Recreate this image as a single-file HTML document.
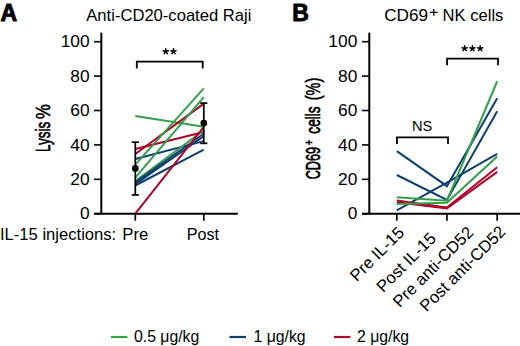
<!DOCTYPE html>
<html><head><meta charset="utf-8"><style>
html,body{margin:0;padding:0;background:#fff;width:520px;height:346px;overflow:hidden}
svg{display:block}
text{font-family:"Liberation Sans",sans-serif;fill:#000}
</style></head><body>
<svg width="520" height="346" viewBox="0 0 520 346">

<text x="0.6" y="20.6" font-size="23" font-weight="bold" stroke="#000" stroke-width="0.9" stroke-linejoin="round">A</text>
<text x="292.2" y="20.6" font-size="23" font-weight="bold" stroke="#000" stroke-width="0.9" stroke-linejoin="round">B</text>
<text x="86.3" y="21.3" font-size="16.6">Anti-CD20-coated Raji</text>
<text x="384.2" y="21.3" font-size="17.2">CD69</text>
<path d="M430 12.3H437.6M433.8 8.9V15.7" stroke="#000" stroke-width="1.3" fill="none"/>
<text x="503.4" y="21.3" font-size="16.6" text-anchor="end">NK cells</text>
<line x1="101.3" y1="32.6" x2="101.3" y2="213.7" stroke="#000" stroke-width="2"/>
<line x1="94.0" y1="213.7" x2="237.8" y2="213.7" stroke="#000" stroke-width="2"/>
<line x1="94.0" y1="213.70" x2="101.3" y2="213.70" stroke="#000" stroke-width="1.6"/>
<text transform="translate(89.6,219.30) scale(1.065,0.97)" font-size="16.3" text-anchor="end">0</text>
<line x1="94.0" y1="179.30" x2="101.3" y2="179.30" stroke="#000" stroke-width="1.6"/>
<text transform="translate(89.6,184.90) scale(1.065,0.97)" font-size="16.3" text-anchor="end">20</text>
<line x1="94.0" y1="144.90" x2="101.3" y2="144.90" stroke="#000" stroke-width="1.6"/>
<text transform="translate(89.6,150.50) scale(1.065,0.97)" font-size="16.3" text-anchor="end">40</text>
<line x1="94.0" y1="110.50" x2="101.3" y2="110.50" stroke="#000" stroke-width="1.6"/>
<text transform="translate(89.6,116.10) scale(1.065,0.97)" font-size="16.3" text-anchor="end">60</text>
<line x1="94.0" y1="76.10" x2="101.3" y2="76.10" stroke="#000" stroke-width="1.6"/>
<text transform="translate(89.6,81.70) scale(1.065,0.97)" font-size="16.3" text-anchor="end">80</text>
<line x1="94.0" y1="41.70" x2="101.3" y2="41.70" stroke="#000" stroke-width="1.6"/>
<text transform="translate(89.6,47.30) scale(1.065,0.97)" font-size="16.3" text-anchor="end">100</text>
<line x1="135.3" y1="213.7" x2="135.3" y2="220.7" stroke="#000" stroke-width="1.7"/>
<line x1="203.8" y1="213.7" x2="203.8" y2="220.7" stroke="#000" stroke-width="1.7"/>
<line x1="369.3" y1="32.6" x2="369.3" y2="213.7" stroke="#000" stroke-width="2"/>
<line x1="362.0" y1="213.7" x2="520" y2="213.7" stroke="#000" stroke-width="2"/>
<line x1="362.0" y1="213.70" x2="369.3" y2="213.70" stroke="#000" stroke-width="1.6"/>
<text transform="translate(357.3,219.30) scale(1.065,0.97)" font-size="16.3" text-anchor="end">0</text>
<line x1="362.0" y1="179.30" x2="369.3" y2="179.30" stroke="#000" stroke-width="1.6"/>
<text transform="translate(357.3,184.90) scale(1.065,0.97)" font-size="16.3" text-anchor="end">20</text>
<line x1="362.0" y1="144.90" x2="369.3" y2="144.90" stroke="#000" stroke-width="1.6"/>
<text transform="translate(357.3,150.50) scale(1.065,0.97)" font-size="16.3" text-anchor="end">40</text>
<line x1="362.0" y1="110.50" x2="369.3" y2="110.50" stroke="#000" stroke-width="1.6"/>
<text transform="translate(357.3,116.10) scale(1.065,0.97)" font-size="16.3" text-anchor="end">60</text>
<line x1="362.0" y1="76.10" x2="369.3" y2="76.10" stroke="#000" stroke-width="1.6"/>
<text transform="translate(357.3,81.70) scale(1.065,0.97)" font-size="16.3" text-anchor="end">80</text>
<line x1="362.0" y1="41.70" x2="369.3" y2="41.70" stroke="#000" stroke-width="1.6"/>
<text transform="translate(357.3,47.30) scale(1.065,0.97)" font-size="16.3" text-anchor="end">100</text>
<line x1="396.8" y1="213.7" x2="396.8" y2="220.7" stroke="#000" stroke-width="1.7"/>
<line x1="446.9" y1="213.7" x2="446.9" y2="220.7" stroke="#000" stroke-width="1.7"/>
<line x1="497.2" y1="213.7" x2="497.2" y2="220.7" stroke="#000" stroke-width="1.7"/>
<line x1="135.3" y1="116.00" x2="203.8" y2="126.67" stroke="#33a049" stroke-width="2"/>
<line x1="135.3" y1="149.03" x2="203.8" y2="132.00" stroke="#ad0529" stroke-width="2"/>
<line x1="135.3" y1="154.02" x2="203.8" y2="103.62" stroke="#ad0529" stroke-width="2"/>
<line x1="135.3" y1="159.00" x2="203.8" y2="141.12" stroke="#0e3f70" stroke-width="2"/>
<line x1="135.3" y1="164.68" x2="203.8" y2="88.31" stroke="#33a049" stroke-width="2"/>
<line x1="135.3" y1="177.58" x2="203.8" y2="97.08" stroke="#33a049" stroke-width="2"/>
<line x1="135.3" y1="181.02" x2="203.8" y2="130.28" stroke="#33a049" stroke-width="2"/>
<line x1="135.3" y1="182.40" x2="203.8" y2="133.72" stroke="#0e3f70" stroke-width="2"/>
<line x1="135.3" y1="184.12" x2="203.8" y2="136.30" stroke="#0e3f70" stroke-width="2"/>
<line x1="135.3" y1="185.49" x2="203.8" y2="149.54" stroke="#0e3f70" stroke-width="2"/>
<line x1="135.3" y1="213.70" x2="203.8" y2="126.84" stroke="#ad0529" stroke-width="2"/>
<line x1="135.3" y1="142.15" x2="135.3" y2="194.95" stroke="#000" stroke-width="1.7"/>
<line x1="131.70000000000002" y1="194.95" x2="138.9" y2="194.95" stroke="#000" stroke-width="1.7"/>
<line x1="131.70000000000002" y1="142.15" x2="138.9" y2="142.15" stroke="#000" stroke-width="1.7"/>
<circle cx="135.3" cy="168.46" r="3.4" fill="#000"/>
<line x1="203.8" y1="103.10" x2="203.8" y2="143.35" stroke="#000" stroke-width="1.7"/>
<line x1="200.20000000000002" y1="143.35" x2="207.4" y2="143.35" stroke="#000" stroke-width="1.7"/>
<line x1="200.20000000000002" y1="103.10" x2="207.4" y2="103.10" stroke="#000" stroke-width="1.7"/>
<circle cx="203.8" cy="123.06" r="3.4" fill="#000"/>
<polyline points="396.8,151.09 446.9,186.18 497.2,98.29" fill="none" stroke="#0e3f70" stroke-width="2" stroke-linejoin="miter"/>
<polyline points="396.8,175.00 446.9,199.94 497.2,111.19" fill="none" stroke="#0e3f70" stroke-width="2" stroke-linejoin="miter"/>
<polyline points="396.8,210.43 446.9,182.74 497.2,153.84" fill="none" stroke="#0e3f70" stroke-width="2" stroke-linejoin="miter"/>
<polyline points="396.8,200.46 446.9,207.51 497.2,167.26" fill="none" stroke="#ad0529" stroke-width="2" stroke-linejoin="miter"/>
<polyline points="396.8,202.35 446.9,208.54 497.2,171.90" fill="none" stroke="#ad0529" stroke-width="2" stroke-linejoin="miter"/>
<polyline points="396.8,197.36 446.9,200.63 497.2,81.26" fill="none" stroke="#33a049" stroke-width="2" stroke-linejoin="miter"/>
<polyline points="396.8,203.90 446.9,202.86 497.2,156.60" fill="none" stroke="#33a049" stroke-width="2" stroke-linejoin="miter"/>
<polyline points="136.8,68.4 136.8,61.6 202.7,61.6 202.7,68.4" fill="none" stroke="#000" stroke-width="1.8"/>
<polyline points="396.9,144 396.9,137.3 448,137.3 448,144" fill="none" stroke="#000" stroke-width="1.8"/>
<polyline points="447.1,65.3 447.1,58.7 498,58.7 498,65.3" fill="none" stroke="#000" stroke-width="1.8"/>
<path d="M165.75 51.50L165.75 48.80M165.75 51.50L168.32 50.67M165.75 51.50L167.34 53.68M165.75 51.50L164.16 53.68M165.75 51.50L163.18 50.67" stroke="#000" stroke-width="1.5" stroke-linecap="round" fill="none"/>
<path d="M173.50 51.50L173.50 48.80M173.50 51.50L176.07 50.67M173.50 51.50L175.09 53.68M173.50 51.50L171.91 53.68M173.50 51.50L170.93 50.67" stroke="#000" stroke-width="1.5" stroke-linecap="round" fill="none"/>
<path d="M464.65 48.50L464.65 45.80M464.65 48.50L467.22 47.67M464.65 48.50L466.24 50.68M464.65 48.50L463.06 50.68M464.65 48.50L462.08 47.67" stroke="#000" stroke-width="1.5" stroke-linecap="round" fill="none"/>
<path d="M472.40 48.50L472.40 45.80M472.40 48.50L474.97 47.67M472.40 48.50L473.99 50.68M472.40 48.50L470.81 50.68M472.40 48.50L469.83 47.67" stroke="#000" stroke-width="1.5" stroke-linecap="round" fill="none"/>
<path d="M480.15 48.50L480.15 45.80M480.15 48.50L482.72 47.67M480.15 48.50L481.74 50.68M480.15 48.50L478.56 50.68M480.15 48.50L477.58 47.67" stroke="#000" stroke-width="1.5" stroke-linecap="round" fill="none"/>
<text x="422.2" y="130.6" font-size="14.6" text-anchor="middle">NS</text>
<text transform="translate(49.7,151.9) rotate(-90) scale(0.643,1)" font-size="21" stroke="#000" stroke-width="0.7">Lysis</text>
<text transform="translate(49.7,119.1) rotate(-90) scale(0.794,1)" font-size="21" stroke="#000" stroke-width="0.6">%</text>
<text transform="translate(320.4,179.3) rotate(-90) scale(0.604,1)" font-size="21" stroke="#000" stroke-width="0.7">CD69</text>
<path d="M305.5 142.5H312.4M309 139.9V145.1" stroke="#000" stroke-width="1.3" fill="none"/>
<text transform="translate(320.4,133.65) rotate(-90) scale(0.65,1)" font-size="21" stroke="#000" stroke-width="0.7">cells</text>
<text transform="translate(320.4,100.3) rotate(-90) scale(0.69,1)" font-size="21" stroke="#000" stroke-width="0.6">(%)</text>
<text x="0" y="239.7" font-size="16.6">IL-15 injections:</text>
<text x="135.4" y="239.7" font-size="16.8" text-anchor="middle">Pre</text>
<text x="202.9" y="239.7" font-size="16.1" text-anchor="middle">Post</text>
<text transform="translate(405.2,233.6) rotate(-45)" x="0" y="0" font-size="16.7" text-anchor="end">Pre IL-15</text>
<text transform="translate(437,239.4) rotate(-45)" x="0" y="0" font-size="16.7" text-anchor="end">Post IL-15</text>
<text transform="translate(474.5,233.45) rotate(-45)" x="0" y="0" font-size="16.7" text-anchor="end">Pre anti-CD52</text>
<text transform="translate(506.6,232.6) rotate(-45)" x="0" y="0" font-size="16.7" text-anchor="end">Post anti-CD52</text>
<line x1="111" y1="337" x2="127.4" y2="337" stroke="#33a049" stroke-width="2.2"/>
<text x="134" y="342.2" font-size="15.8">0.5 μg/kg</text>
<line x1="229.5" y1="337" x2="246" y2="337" stroke="#0e3f70" stroke-width="2.2"/>
<text x="253.5" y="342.2" font-size="15.8">1 μg/kg</text>
<line x1="333.9" y1="337" x2="350.3" y2="337" stroke="#ad0529" stroke-width="2.2"/>
<text x="357" y="342.2" font-size="15.8">2 μg/kg</text>
</svg></body></html>
